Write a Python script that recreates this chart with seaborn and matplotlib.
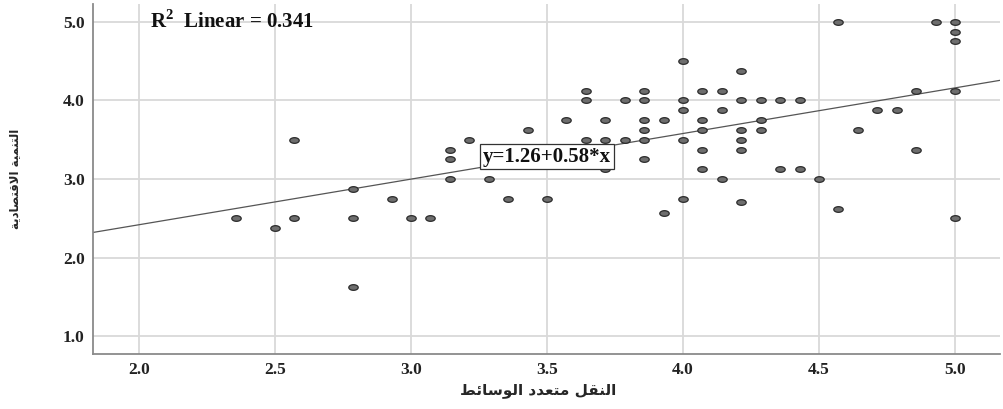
import numpy as np
import pandas as pd
import matplotlib
matplotlib.use("Agg")
import matplotlib.pyplot as plt
from matplotlib.path import Path
import seaborn as sns

# ---------------- data ----------------
x_values = [2.357, 2.5, 2.571, 2.571, 2.786, 2.786, 2.786, 2.929, 3.0, 3.071,
            3.143, 3.143, 3.143, 3.214, 3.286, 3.357, 3.429, 3.5,
            4.571, 4.929, 5.0, 5.0, 5.0, 4.0, 4.214,
            3.643, 3.857, 4.071, 4.143, 4.857, 5.0,
            3.643, 3.786, 3.857, 4.0, 4.214, 4.286, 4.357, 4.429,
            4.0, 4.143, 4.714, 4.786,
            3.571, 3.714, 3.857, 3.929, 4.071, 4.286,
            3.857, 4.071, 4.214, 4.286, 4.643,
            3.643, 3.714, 3.786, 3.857, 4.0, 4.214,
            4.071, 4.214, 4.857,
            3.857,
            3.714, 4.071, 4.357, 4.429,
            4.143, 4.5,
            4.0, 4.214, 3.929, 4.571, 5.0]
y_values = [2.5, 2.375, 3.5, 2.5, 2.875, 2.5, 1.625, 2.75, 2.5, 2.5,
            3.375, 3.25, 3.0, 3.5, 3.0, 2.75, 3.625, 2.75,
            5.0, 5.0, 5.0, 4.875, 4.75, 4.5, 4.375,
            4.125, 4.125, 4.125, 4.125, 4.125, 4.125,
            4.0, 4.0, 4.0, 4.0, 4.0, 4.0, 4.0, 4.0,
            3.875, 3.875, 3.875, 3.875,
            3.75, 3.75, 3.75, 3.75, 3.75, 3.75,
            3.625, 3.625, 3.625, 3.625, 3.625,
            3.5, 3.5, 3.5, 3.5, 3.5, 3.5,
            3.375, 3.375, 3.375,
            3.25,
            3.125, 3.125, 3.125, 3.125,
            3.0, 3.0,
            2.75, 2.71, 2.57, 2.625, 2.5]

fit_intercept = 1.26
fit_slope = 0.58
r2_text = "R$^{\\mathbf{2}}$  Linear = 0.341"
eq_text = "y=1.26+0.58*x"
x_label_ar = "النقل متعدد الوسائط"
y_label_ar = "التنمية الاقتصادية"
x_ticks = [2.0, 2.5, 3.0, 3.5, 4.0, 4.5, 5.0]
y_ticks = [1.0, 2.0, 3.0, 4.0, 5.0]

# ---------------- minimal Arabic shaping (presentation forms) ----------------
FORMS = {
    '\u0627': ('\uFE8D', '\uFE8E', None, None),
    '\u0625': ('\uFE87', '\uFE88', None, None),
    '\u0644': ('\uFEDD', '\uFEDE', '\uFEDF', '\uFEE0'),
    '\u062A': ('\uFE95', '\uFE96', '\uFE97', '\uFE98'),
    '\u0646': ('\uFEE5', '\uFEE6', '\uFEE7', '\uFEE8'),
    '\u0645': ('\uFEE1', '\uFEE2', '\uFEE3', '\uFEE4'),
    '\u064A': ('\uFEF1', '\uFEF2', '\uFEF3', '\uFEF4'),
    '\u0629': ('\uFE93', '\uFE94', None, None),
    '\u0642': ('\uFED5', '\uFED6', '\uFED7', '\uFED8'),
    '\u0635': ('\uFEB9', '\uFEBA', '\uFEBB', '\uFEBC'),
    '\u062F': ('\uFEA9', '\uFEAA', None, None),
    '\u0639': ('\uFEC9', '\uFECA', '\uFECB', '\uFECC'),
    '\u0648': ('\uFEED', '\uFEEE', None, None),
    '\u0633': ('\uFEB1', '\uFEB2', '\uFEB3', '\uFEB4'),
    '\u0626': ('\uFE89', '\uFE8A', '\uFE8B', '\uFE8C'),
    '\u0637': ('\uFEC1', '\uFEC2', '\uFEC3', '\uFEC4'),
}
LAMALEF = {'\u0627': ('\uFEFB', '\uFEFC'), '\u0625': ('\uFEF9', '\uFEFA')}


def shape_ar(text):
    res = []
    prev_dual = False
    i, n = 0, len(text)
    while i < n:
        c = text[i]
        if c not in FORMS:
            res.append(c)
            prev_dual = False
            i += 1
            continue
        nxt = text[i + 1] if i + 1 < n else None
        if c == '\u0644' and nxt in LAMALEF:
            iso, fin = LAMALEF[nxt]
            res.append(fin if prev_dual else iso)
            prev_dual = False
            i += 2
            continue
        iso, fin, ini, med = FORMS[c]
        if ini is not None and nxt in FORMS:
            res.append(med if prev_dual else ini)
            prev_dual = True
        else:
            res.append(fin if prev_dual else iso)
            prev_dual = False
        i += 1
    return ''.join(reversed(res))


# ---------------- plot ----------------
sns.set_theme(style="white")
plt.rcParams['font.family'] = ['Liberation Serif', 'DejaVu Sans']
plt.rcParams['mathtext.fontset'] = 'custom'
plt.rcParams['mathtext.rm'] = 'Liberation Serif'
plt.rcParams['mathtext.bf'] = 'Liberation Serif:bold'

df = pd.DataFrame({"x": x_values, "y": y_values})

fig = plt.figure(figsize=(10.04, 4.09), dpi=100)
ax = fig.add_axes([0.0926, 0.1345, 0.9034, 0.8555])

t = np.linspace(0, 2 * np.pi, 41)
ellipse = Path(np.column_stack([np.cos(t), 0.6 * np.sin(t)]), closed=True)

ax.axline((0, fit_intercept), slope=fit_slope, color="#555555", lw=0.9, zorder=2)

sns.scatterplot(data=df, x="x", y="y", ax=ax, marker=ellipse, s=46,
                color="#6e6e6e", edgecolor="#2a2a2a", linewidth=0.9, zorder=3)

ax.set_xlim(1.831, 5.165)
ax.set_ylim(0.777, 5.225)
ax.set_xticks(x_ticks)
ax.set_yticks(y_ticks)
ax.set_xticklabels([f"{v:.1f}" for v in x_ticks], fontweight="bold", fontsize=12.5)
ax.set_yticklabels([f"{v:.1f}" for v in y_ticks], fontweight="bold", fontsize=12.5)
ax.tick_params(axis="both", length=0, pad=6, colors="#222222")

ax.grid(True, color="#d9d9d9", lw=1.3)
ax.set_axisbelow(True)
for side in ["top", "right"]:
    ax.spines[side].set_visible(False)
for side in ["left", "bottom"]:
    ax.spines[side].set_color("#8a8a8a")
    ax.spines[side].set_linewidth(1.3)

ax.set_xlabel(shape_ar(x_label_ar), family="DejaVu Sans", fontweight="bold",
              fontsize=11)
ax.set_ylabel(shape_ar(y_label_ar), family="DejaVu Sans", fontweight="bold",
              fontsize=8.5)
ax.xaxis.set_label_coords(0.491, -0.084)
ax.yaxis.set_label_coords(-0.086, 0.5)
ax.yaxis.label.set_va("center")

ax.text(2.04, 5.0, r2_text, fontsize=15, fontweight="bold", ha="left", va="center",
        color="#111111")
ax.text(3.5, 3.285, eq_text, fontsize=15, fontweight="bold", ha="center", va="center",
        color="#111111", zorder=4,
        bbox=dict(boxstyle="square,pad=0.12", facecolor="white", edgecolor="#333333", lw=0.9))

fig.savefig("out.png", dpi=100)
